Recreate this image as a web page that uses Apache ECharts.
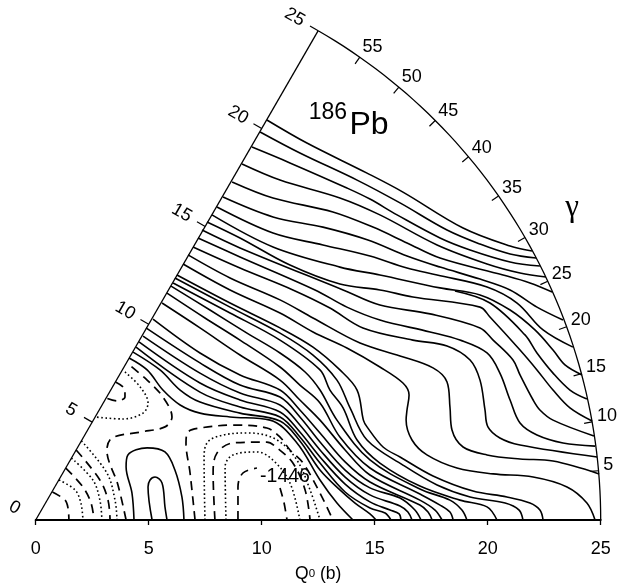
<!DOCTYPE html>
<html><head><meta charset="utf-8"><style>html,body{margin:0;padding:0;background:#fff}#c{width:617px;height:588px}</style>
<script src="https://cdn.jsdelivr.net/npm/echarts@6/dist/echarts.min.js"></script></head>
<body><div id="c"></div><script>
// Contours: [Q cos(gamma), Q sin(gamma)] in barn
const upper01=[[10.23,17.70],[12.00,16.68],[14.66,15.35],[16.25,14.51],[18.91,12.92],[20.99,12.12],[21.96,11.90]];
const upper02=[[9.93,17.17],[11.69,16.24],[14.22,15.04],[16.12,14.03],[18.20,12.83],[19.66,12.21],[20.99,11.77],[22.14,11.59]];
const upper03=[[9.57,16.50],[11.25,15.80],[13.77,14.69],[14.79,14.20],[15.99,13.50],[17.89,12.48],[19.22,11.95],[20.99,11.42],[22.31,11.24]];
const upper04=[[9.13,15.75],[10.81,15.04],[13.46,14.25],[15.23,13.50],[17.76,12.17],[19.97,11.33],[21.43,10.93],[22.58,10.75]];
const upper05=[[8.69,14.96],[10.50,14.25],[13.15,13.63],[14.92,12.96],[16.43,12.26],[17.89,11.59],[20.68,10.84],[21.87,10.49],[22.85,10.09]];
const upper06=[[8.29,14.29],[10.50,13.41],[12.71,12.96],[14.70,12.39],[16.43,11.68],[17.89,11.19],[19.66,10.66],[20.99,10.18],[22.18,9.42],[23.33,8.85]];
const upper07=[[8.02,13.85],[10.50,12.70],[12.71,12.17],[14.79,11.68],[16.43,11.15],[17.76,10.84],[19.97,10.31],[21.30,9.60],[22.45,8.41],[23.77,7.65]];
const upper08=[[7.80,13.50],[10.50,12.08],[13.46,11.19],[15.23,10.84],[17.89,10.27],[19.66,9.96],[20.99,9.29],[22.09,8.41],[22.89,7.52],[23.42,6.86],[24.17,6.42]];
const upper08b=[[18.55,10.13],[20.10,9.60],[21.65,8.19],[22.18,7.39],[22.89,6.50],[23.64,5.75],[24.39,5.35]];
const upper09=[[7.58,13.19],[9.04,12.48],[11.25,11.28],[13.46,10.44],[15.23,10.18],[16.69,9.87],[19.66,9.42],[20.10,8.98],[21.43,7.52],[22.18,6.64],[22.89,5.75],[23.64,4.96],[24.62,4.38]];
const upper10=[[7.36,12.83],[9.04,12.04],[13.60,10.18],[15.23,9.51],[17.45,9.12],[19.66,8.50],[20.24,7.96],[21.12,7.08],[21.43,6.42],[22.01,5.31],[22.31,4.87],[22.89,4.42],[24.70,3.72]];
const upper11=[[7.18,12.48],[9.04,11.64],[12.36,10.18],[13.77,9.42],[15.23,8.85],[17.45,8.32],[18.77,7.96],[19.97,7.39],[20.54,6.50],[20.99,5.31],[21.43,4.29],[22.18,3.76],[23.33,3.41],[24.75,3.27]];
const upper12=[[6.96,12.08],[9.04,11.15],[11.38,10.18],[13.02,9.38],[14.48,8.50],[16.69,7.96],[18.20,7.70],[19.22,7.08],[19.66,6.19],[19.88,4.87],[20.01,4.12],[20.54,3.63],[21.43,3.32],[24.84,2.79]];
const upper13=[[6.74,11.73],[8.60,10.71],[10.81,9.74],[12.27,8.94],[14.35,7.83],[16.12,7.26],[17.58,6.73],[18.20,6.11],[18.33,5.00],[18.42,3.98],[18.91,3.23],[19.97,2.88],[21.43,2.70],[22.89,2.61],[24.93,2.04]];
const upper14=[[6.52,11.33],[8.60,10.18],[10.81,9.16],[12.27,8.32],[13.77,7.61],[15.23,6.77],[16.25,6.06],[16.52,5.53],[16.43,4.87],[16.39,4.42],[16.65,3.54],[17.31,2.88],[18.64,2.30],[20.24,2.04],[22.01,1.90],[23.51,1.46],[24.39,0.75],[24.75,0]];
const band15=[[6.25,10.84],[8.60,9.60],[10.81,8.50],[12.27,7.65],[13.46,6.64],[14.22,5.75],[14.50,4.42],[14.66,4.12],[15.37,3.23],[16.12,2.79],[17.58,1.95],[19.35,1.28],[20.85,1.02],[21.87,0.75],[22.31,0.44],[22.45,0]];
const band16=[[6.16,10.71],[8.60,9.42],[10.81,8.27],[12.27,7.30],[13.33,6.19],[13.91,4.96],[14.66,3.54],[16.25,2.43],[17.76,1.55],[19.22,1.02],[20.77,0.75],[21.39,0.44],[21.56,0]];
const band17=[[6.08,10.49],[8.60,9.16],[10.81,7.96],[12.58,6.64],[13.02,5.75],[13.60,4.96],[14.22,3.54],[15.23,2.52],[17.00,1.50],[18.77,0.88],[19.97,0.58],[20.41,0]];
const band18=[[5.99,10.35],[7.71,9.29],[9.35,8.27],[10.81,7.39],[11.92,6.55],[12.58,5.75],[13.33,4.42],[14.79,2.66],[17.00,1.37],[18.33,0.88],[18.86,0.44],[19.08,0]];
const band19=[[5.81,10.04],[7.49,8.94],[9.04,7.96],[10.81,6.77],[11.69,5.97],[12.58,5.18],[13.46,3.67],[14.79,2.30],[17.00,1.15],[17.89,0.66],[18.33,0.35],[18.47,0]];
const band20=[[5.59,9.60],[7.27,8.50],[9.04,7.30],[10.81,6.19],[11.69,5.31],[12.58,4.42],[13.69,3.10],[14.79,1.99],[17.00,0.88],[17.67,0.44],[17.98,0]];
const band21=[[5.19,8.89],[7.27,7.39],[9.04,6.42],[10.81,5.75],[11.69,4.87],[12.58,3.85],[13.69,2.57],[14.79,1.68],[17.00,0.66],[17.36,0.35],[17.54,0]];
const band22=[[4.88,8.50],[7.27,6.95],[9.04,5.97],[10.81,5.44],[11.69,4.56],[12.58,3.45],[13.69,2.21],[14.79,1.42],[16.12,0.97],[16.78,0.44],[17.05,0]];
const band23=[[4.75,8.14],[7.27,6.50],[9.04,5.62],[10.81,5.09],[11.69,4.20],[12.58,3.10],[13.69,1.90],[14.79,1.11],[16.12,0.62],[16.47,0.35],[16.65,0]];
const band24=[[4.57,7.88],[7.27,6.06],[9.04,5.31],[10.81,4.78],[11.69,3.89],[12.58,2.79],[13.69,1.59],[14.79,0.80],[15.68,0.44],[16.08,0.27],[16.16,0]];
const band25=[[4.44,7.65],[7.27,5.66],[9.04,5.00],[10.81,4.56],[11.69,3.67],[12.58,2.52],[13.69,1.24],[14.79,0.53],[15.46,0.31],[15.72,0]];
const band26=[[4.31,7.43],[5.50,6.64],[6.39,5.75],[7.27,5.22],[9.04,4.73],[10.81,4.38],[11.69,3.50],[12.58,2.21],[13.46,1.33],[14.13,0.75],[14.79,0.27],[15.06,0]];
const band27=[[4.13,7.17],[4.93,6.64],[5.63,5.75],[6.39,5.09],[7.27,4.73],[8.60,4.56],[10.37,4.42],[11.56,3.41],[12.58,1.77],[13.33,0.75],[14.04,0]];
const corner1=[[0.74,1.24],[1.30,0.88],[1.43,0.53],[1.47,0]];
const corner2=[[1.03,1.77],[1.74,1.33],[2.00,0.75],[2.09,0]];
const corner3=[[1.33,2.30],[2.09,1.46],[2.45,0.75],[2.58,0]];
const corner4=[[1.58,2.74],[2.53,1.77],[2.84,0.88],[2.93,0]];
const corner5=[[1.79,3.10],[2.84,1.77],[3.20,0.88],[3.29,0]];
const corner6=[[2.02,3.50],[3.15,2.08],[3.51,0.88],[3.60,0]];
const gapDashed=[[4.00,0],[3.64,1.55],[3.15,3.10],[3.38,3.63],[4.62,3.89],[5.72,4.12],[6.03,4.56],[5.63,5.44],[4.93,6.19],[4.04,6.95]];
const pocketDotted=[[3.95,6.55],[4.62,5.89],[4.97,5.18],[4.75,4.73],[3.86,4.47],[2.62,4.56]];
const pocketDashed=[[3.53,6.11],[3.95,5.75],[3.95,5.44],[3.60,5.27],[3.11,5.40]];
const ridgeOuter=[[4.35,0],[4.26,1.19],[4.00,2.35],[4.08,2.88],[4.93,3.19],[5.72,3.01],[6.16,2.21],[6.47,1.02],[6.56,0]];
const ridgeInner=[[5.15,0],[4.97,1.46],[5.06,1.77],[5.28,1.90],[5.59,1.64],[5.72,0.58],[5.81,0]];
const dome1=[[7.05,0],[6.83,2.08],[6.65,3.41],[6.74,3.89],[7.27,4.07],[8.73,4.20],[10.23,4.07],[10.81,3.67],[11.25,3.10],[11.83,2.52],[12.58,1.19],[13.15,0]];
const dome2=[[7.49,0],[7.45,2.65],[7.58,3.41],[8.29,3.76],[9.48,3.85],[10.68,3.54],[11.56,2.65],[12.14,1.33],[12.58,0]];
const dome3=[[7.93,0],[7.85,2.08],[8.02,2.96],[8.73,3.41],[10.23,3.45],[10.68,3.19],[11.38,2.52],[11.92,1.33],[12.14,0]];
const dome4=[[8.42,0],[8.38,2.35],[8.73,2.88],[9.79,3.01],[10.50,2.65],[11.25,1.64],[11.69,0]];
const dome5a=[[8.95,0],[8.95,1.46],[9.17,2.08],[9.79,2.30]];
const dome5b=[[10.81,1.42],[10.99,0.75],[11.12,0]];

const solidLines=[upper01,upper02,upper03,upper04,upper05,upper06,upper07,upper08,upper08b,upper09,upper10,upper11,upper12,upper13,upper14,band15,band16,band17,band18,band19,band20,band21,band22,band23,band24,band25,band26,band27,ridgeOuter,ridgeInner];
const dashedLines=[corner1,corner3,corner5,gapDashed,pocketDashed,dome1,dome3,dome5a,dome5b];
const dottedLines=[corner2,corner4,corner6,pocketDotted,dome2,dome4];

const qTicks=[0,5,10,15,20,25];
const gammaTicks=[5,10,15,20,25,30,35,40,45,50,55];
const qMax=25, edgeAngle=60, minLabel='-1446';

const FONT='"Liberation Sans",Arial,sans-serif', INK='#000';
const rad=d=>d*Math.PI/180;
const pol=(r,g)=>[r*Math.cos(rad(g)),r*Math.sin(rad(g))];
const line=(data,w,type,smooth)=>({type:'line',data,smooth:smooth,smoothMonotone:null,symbol:'none',clip:false,silent:true,
  lineStyle:{color:INK,width:w,type:type,cap:'butt',join:'round',opacity:1},z:3});
const text=(items,size,rotate,family)=>({type:'scatter',symbolSize:1,clip:false,silent:true,z:5,itemStyle:{color:'transparent',opacity:1},
  data:items.map(i=>({value:[i[0],i[1]],label:{formatter:i[2]}})),
  label:{show:true,position:'inside',align:'center',verticalAlign:'middle',color:INK,opacity:1,fontSize:size,fontFamily:family||FONT,rotate:rotate||0}});

const series=[];
solidLines.forEach(d=>series.push(line(d,1.6,'solid',0.35)));
dashedLines.forEach(d=>series.push(line(d,1.7,[9,6],0.35)));
dottedLines.forEach(d=>series.push(line(d,1.6,[1.6,2.6],0.35)));
// frame: left edge, arc, ticks
series.push(line([pol(0,edgeAngle),pol(qMax,edgeAngle)],1.3,'solid',false));
const arc=[];for(let g=0;g<=edgeAngle;g+=1)arc.push(pol(qMax,g));
series.push(line(arc,1.3,'solid',false));
const nx=-Math.sin(rad(edgeAngle)),ny=Math.cos(rad(edgeAngle));
qTicks.forEach(q=>{const p=pol(q,edgeAngle);series.push(line([p,[p[0]+nx*0.42,p[1]+ny*0.42]],1.2,'solid',false));});
gammaTicks.forEach(g=>series.push(line([pol(qMax,g),pol(qMax-0.36,g)],1.2,'solid',false)));
series.push(text(qTicks.map(q=>{const p=pol(q,edgeAngle),o=q<10?1.08:1.2;return [p[0]+nx*o,p[1]+ny*o,String(q)];}),18,-30));
series.push(text(gammaTicks.map(g=>{const p=pol(g===5?25.45:25.7,g+(30-g)*0.018);return [p[0],p[1],String(g)];}),18));
series.push(text([[11.03,1.9,minLabel]],19.5));
series.push(text([[12.93,18.03,'186']],23));
series.push(text([[14.75,17.48,'Pb']],32));
series.push(text([[23.73,13.81,'γ']],31,0,'"Liberation Serif",serif'));

echarts.init(document.getElementById('c')).setOption({
  animation:false,backgroundColor:'#fff',
  grid:{left:35.7,right:16.3,top:11.5,bottom:68},
  xAxis:{type:'value',min:0,max:25,interval:5,splitLine:{show:false},
    axisLine:{onZero:false,lineStyle:{color:INK,width:2}},
    axisTick:{length:5,lineStyle:{color:INK,width:1.3}},
    axisLabel:{margin:20,color:INK,fontSize:18,fontFamily:FONT},
    name:'{a|Q}{b|0}{a| (b)}',nameLocation:'middle',nameGap:45,
    nameTextStyle:{rich:{a:{fontSize:17.5,color:INK,fontFamily:FONT},b:{fontSize:11.5,color:INK,fontFamily:FONT}}}},
  yAxis:{type:'value',min:0,max:22.5,show:false},
  series
});
</script></body></html>
